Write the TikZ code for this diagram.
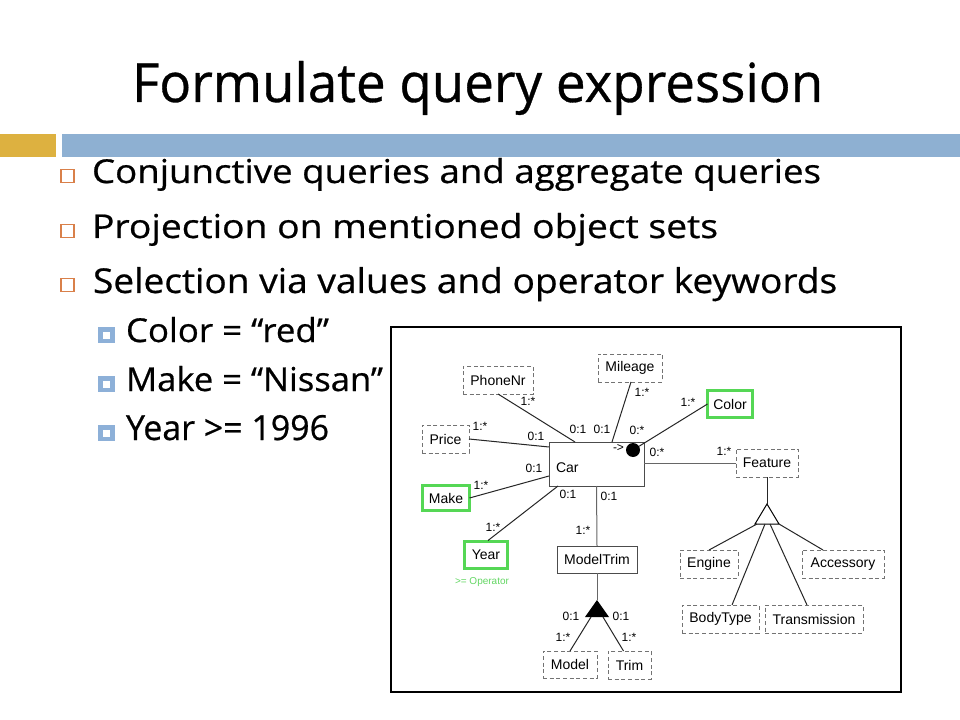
\documentclass[tikz,border=0pt]{standalone}
\usepackage{fontspec}
\usepackage{graphicx}
\setmainfont{Liberation Sans}
\newfontfamily\slidefont[FakeBold=0.6]{Open Sans}
\usetikzlibrary{calc}
\definecolor{goldbar}{RGB}{221,177,64}
\definecolor{bluebar}{RGB}{142,176,210}
\definecolor{bulletorange}{RGB}{217,128,74}
\definecolor{subblue}{RGB}{141,176,216}
\definecolor{selgreen}{RGB}{85,215,85}
\definecolor{opgreen}{RGB}{100,215,100}
\definecolor{dashgray}{RGB}{115,115,115}
\begin{document}
\begin{tikzpicture}[x=0.75pt,y=-0.75pt,
  every node/.style={inner sep=0pt, outer sep=0pt},
  sz/.style 2 args={minimum width=#1*0.75pt, minimum height=#2*0.75pt},
  boxtext/.style={font=\fontsize{10.5pt}{12pt}\selectfont},
  dbox/.style={boxtext, draw=dashgray, dash pattern=on 3pt off 2pt, line width=0.75pt},
  sbox/.style={boxtext, draw=black!70, line width=0.75pt},
  gbox/.style={boxtext, draw=selgreen, line width=2.25pt},
  lbl/.style={font=\fontsize{9pt}{10pt}\selectfont},
  conn/.style={line width=0.75pt, draw=black!85},
  slidetext/.style={anchor=base west, font=\slidefont}
]
\useasboundingbox (0,0) rectangle (960,720);
\fill[white] (0,0) rectangle (960,720);

% title
\node[slidetext] (title) at (132,102) {\resizebox{518.25pt}{30.75pt}{Formulate query expression}};

% bars
\fill[goldbar] (0,134) rectangle (56,157);
\fill[bluebar] (62,134) rectangle (960,157);

% main bullets
\foreach \yc in {176,231,285}{
  \draw[bulletorange, line width=1.1pt] (61,\yc-6.5) rectangle (74,\yc+6.5);
}
\node[slidetext] (b1) at (92,183) {\resizebox{546.75pt}{18.75pt}{Conjunctive queries and aggregate queries}};
\node[slidetext] (b2) at (92,238) {\resizebox{469.5pt}{18.75pt}{Projection on mentioned object sets}};
\node[slidetext] (b3) at (93,293) {\resizebox{558pt}{19.5pt}{Selection via values and operator keywords}};

% sub bullets
\foreach \yc in {335,384,433}{
  \fill[subblue] (98,\yc-8) rectangle (115,\yc+8);
  \fill[white] (103,\yc-3.5) rectangle (110,\yc+3.5);
}
\node[slidetext] (s1) at (126,342) {\resizebox{152.25pt}{18.75pt}{Color = “red”}};
\node[slidetext] (s2) at (126,391) {\resizebox{192.75pt}{18.75pt}{Make = “Nissan”}};
\node[slidetext] (s3) at (126,440) {\resizebox{152.25pt}{18.75pt}{Year >= 1996}};

% diagram frame
\draw[black, line width=0.9pt] (391,327) rectangle (901,692);

% object sets
\node[dbox, sz={70}{28}] (phone) at (498,380) {PhoneNr};
\node[dbox, sz={47}{28}] (price) at (445.5,439) {Price};
\node[gbox, sz={47}{25}] (make) at (446,498) {Make};
\node[gbox, sz={43}{27}] (year) at (486,555) {Year};
\node[font=\fontsize{7.5pt}{8pt}\selectfont, text=opgreen] (yearop) at (482,582) {>= Operator};
\node[dbox, sz={64}{28}] (mileage) at (630,368) {Mileage};
\node[gbox, sz={45}{27}] (color) at (730,404) {Color};
\node[dbox, sz={62}{28}] (feature) at (767,463) {Feature};
\node[sbox, sz={95}{44}] (car) at (596.5,464) {};
\node[boxtext, anchor=west] (cartext) at (556,468) {Car};
\node[circle, fill=black, minimum size=14*0.75pt] (dot) at (633,450) {};
\node[lbl, anchor=east] (arrowtxt) at (624,448) {->};
\node[sbox, sz={80}{27}] (modeltrim) at (597,559.5) {ModelTrim};
\node[dbox, sz={54}{27}] (model) at (570,664.5) {Model};
\node[dbox, sz={43}{28}] (trim) at (629.5,665) {Trim};
\node[dbox, sz={58}{28}] (engine) at (709,564) {Engine};
\node[dbox, sz={82}{28}] (accessory) at (843,564) {Accessory};
\node[dbox, sz={77}{28}] (bodytype) at (720.5,619) {BodyType};
\node[dbox, sz={98}{28}] (transmission) at (814,619) {Transmission};

% triangles
\coordinate (ta) at (597,600);
\coordinate (tl) at (585,617);
\coordinate (tr) at (609,617);
\fill[black] (ta) -- (tl) -- (tr) -- cycle;
\coordinate (fa) at (767,504);
\coordinate (fl) at (755,524);
\coordinate (fr) at (779,524);
\draw[line width=0.75pt, fill=white] (fa) -- (fl) -- (fr) -- cycle;

% connectors
\draw[conn] (phone.south) -- ($(car.north west)+(26,0)$);
\draw[conn] (price.east) -- ($(car.north west)+(0,5)$);
\draw[conn] (make.east) -- ($(car.north west)+(0,34)$);
\draw[conn] ($(year.north)+(2,-1)$) -- ($(car.south west)+(9,0)$);
\draw[conn] ($(mileage.south)+(1,0)$) -- ($(car.north west)+(63,0)$);
\draw[conn] (color.west) -- (dot);
\draw[conn, draw=black!60] (car.east |- feature.west) -- (feature.west);
\draw[conn, draw=black!60] (car.south) -- (modeltrim.north);
\draw[conn, draw=black!60] (modeltrim.south) -- (ta);
\draw[conn] ($(tl)+(6,0)$) -- (model.north);
\draw[conn] ($(tr)+(-6,0)$) -- ($(trim.north)+(-6,0)$);
\draw[conn] (feature.south) -- (fa);
\draw[conn] ($(fl)+(2,0)$) -- (engine.north);
\draw[conn] ($(fl)+(10,0)$) -- ($(bodytype.north)+(11.5,0)$);
\draw[conn] ($(fl)+(15,0)$) -- ($(transmission.north)+(-7,0)$);
\draw[conn] ($(fr)+(0,0)$) -- ($(accessory.north)+(-20,0)$);

% participation constraints
\node[lbl] (l1) at (528,401) {1:*};
\node[lbl] (l2) at (578,429) {0:1};
\node[lbl] (l3) at (480,426) {1:*};
\node[lbl] (l4) at (536,436) {0:1};
\node[lbl] (l5) at (481,485) {1:*};
\node[lbl] (l6) at (534,468) {0:1};
\node[lbl] (l7) at (493,527) {1:*};
\node[lbl] (l8) at (568,494) {0:1};
\node[lbl] (l9) at (642,392) {1:*};
\node[lbl] (l10) at (602,429) {0:1};
\node[lbl] (l11) at (688,402) {1:*};
\node[lbl] (l12) at (637,430) {0:*};
\node[lbl] (l13) at (657,452) {0:*};
\node[lbl] (l14) at (724,451) {1:*};
\node[lbl] (l15) at (609,496) {0:1};
\node[lbl] (l16) at (583,530) {1:*};
\node[lbl] (l17) at (571,616) {0:1};
\node[lbl] (l18) at (621,616) {0:1};
\node[lbl] (l19) at (563,637) {1:*};
\node[lbl] (l20) at (629,637) {1:*};
\end{tikzpicture}
\end{document}
